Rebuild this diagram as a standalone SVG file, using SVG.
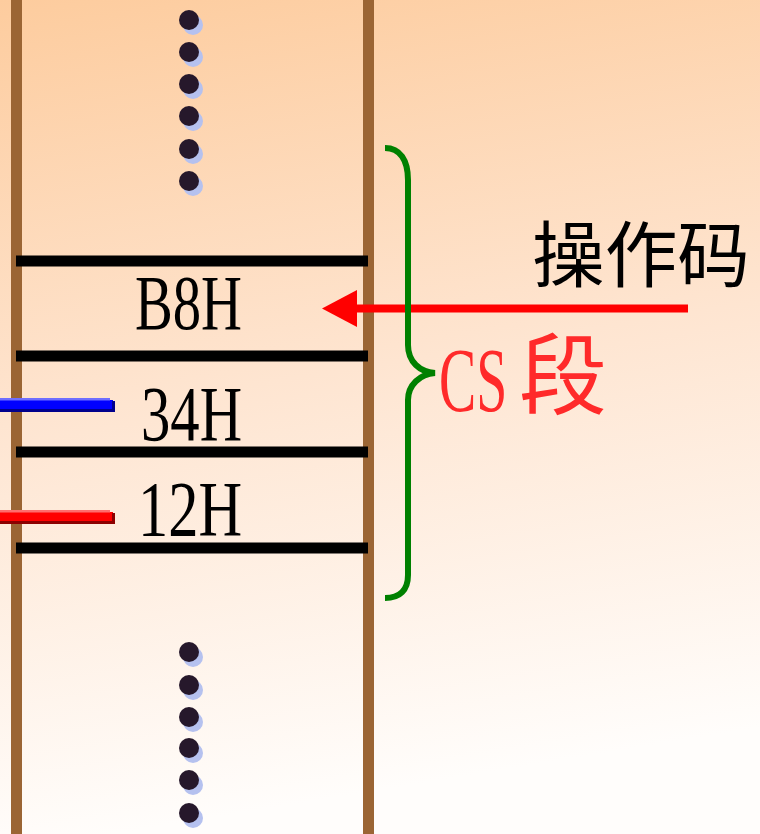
<svg xmlns="http://www.w3.org/2000/svg" width="760" height="834" viewBox="0 0 760 834">
  <defs>
    <linearGradient id="bg" x1="0" y1="0" x2="0.15" y2="1">
      <stop offset="0" stop-color="#FDCC9E"/>
      <stop offset="0.5" stop-color="#FEE5D1"/>
      <stop offset="1" stop-color="#FFFDFB"/>
    </linearGradient>
    <g id="dot">
      <circle cx="4" cy="5" r="10" fill="#B5C1EF"/>
      <circle cx="0" cy="0" r="10" fill="#26182B"/>
    </g>
  </defs>
  <style>
    .rail { fill: #9B6534; }
    .cell { stroke: #000; stroke-width: 11; }
    .hex { font-family: "Liberation Serif", serif; font-size: 78px; fill: #000; text-anchor: end; }
    .cjk { font-family: "Noto Sans CJK SC", sans-serif; }
    .brace { fill: none; stroke: #008000; stroke-width: 6; }
  </style>

  <rect width="760" height="834" fill="url(#bg)"/>

  <!-- memory column rails -->
  <g id="rails">
    <rect class="rail" x="11" y="0" width="11" height="834"/>
    <rect class="rail" x="363" y="0" width="11" height="834"/>
  </g>

  <!-- ellipsis above -->
  <g id="dots-top">
    <use href="#dot" x="189" y="20"/>
    <use href="#dot" x="189" y="52"/>
    <use href="#dot" x="189" y="84"/>
    <use href="#dot" x="189" y="116"/>
    <use href="#dot" x="189" y="149"/>
    <use href="#dot" x="189" y="181"/>
  </g>

  <!-- ellipsis below -->
  <g id="dots-bottom">
    <use href="#dot" x="189" y="652"/>
    <use href="#dot" x="189" y="685"/>
    <use href="#dot" x="189" y="717"/>
    <use href="#dot" x="189" y="748"/>
    <use href="#dot" x="189" y="780"/>
    <use href="#dot" x="189" y="813"/>
  </g>

  <!-- cell boundaries -->
  <g id="cell-lines">
    <line class="cell" x1="16" y1="261" x2="368" y2="261"/>
    <line class="cell" x1="16" y1="356" x2="368" y2="356"/>
    <line class="cell" x1="16" y1="452" x2="368" y2="452"/>
    <line class="cell" x1="16" y1="548" x2="368" y2="548"/>
  </g>

  <!-- cell contents -->
  <g id="cell-b8">
    <text class="hex" x="242" y="329" textLength="107" lengthAdjust="spacingAndGlyphs">B8H</text>
  </g>
  <g id="cell-34">
    <text class="hex" x="242" y="440" textLength="101" lengthAdjust="spacingAndGlyphs">34H</text>
  </g>
  <g id="cell-12">
    <text class="hex" x="242" y="535" textLength="104" lengthAdjust="spacingAndGlyphs">12H</text>
  </g>

  <!-- pointer bars on the left -->
  <g id="ptr-blue">
    <rect x="0" y="400" width="113" height="11" fill="#0000FF"/>
    <rect x="0" y="398" width="110" height="2.5" fill="#6E6EFF"/>
    <rect x="0" y="409" width="115" height="3" fill="#00008C"/>
    <rect x="112" y="401" width="3" height="11" fill="#00008C"/>
  </g>
  <g id="ptr-red">
    <rect x="0" y="512" width="113" height="11" fill="#FF0000"/>
    <rect x="0" y="510" width="110" height="2.5" fill="#FF6E6E"/>
    <rect x="0" y="521" width="115" height="3" fill="#8C0000"/>
    <rect x="112" y="513" width="3" height="11" fill="#8C0000"/>
  </g>

  <!-- connectors -->
  <g id="connectors">
    <line x1="688" y1="308.5" x2="355" y2="308.5" stroke="#FF0000" stroke-width="8"/>
    <polygon points="322,308.5 357,290 357,327" fill="#FF0000"/>
    <path class="brace" d="M385,148 C400,148 408,160 408,180 L408,345 C408,362 420,372 435,373 C420,374 408,385 408,400 L408,575 C408,590 400,598 385,598"/>
  </g>

  <!-- labels -->
  <g id="label-opcode">
    <text class="cjk" x="532" y="281" font-size="72" fill="#000" textLength="218" lengthAdjust="spacingAndGlyphs">操作码</text>
  </g>
  <g id="label-cs" fill="#FF2A2A">
    <text transform="translate(439,411) scale(0.62,1)" font-size="90" font-family="'Liberation Serif', serif">CS</text>
    <text class="cjk" x="519" y="407" font-size="88">段</text>
  </g>
</svg>
